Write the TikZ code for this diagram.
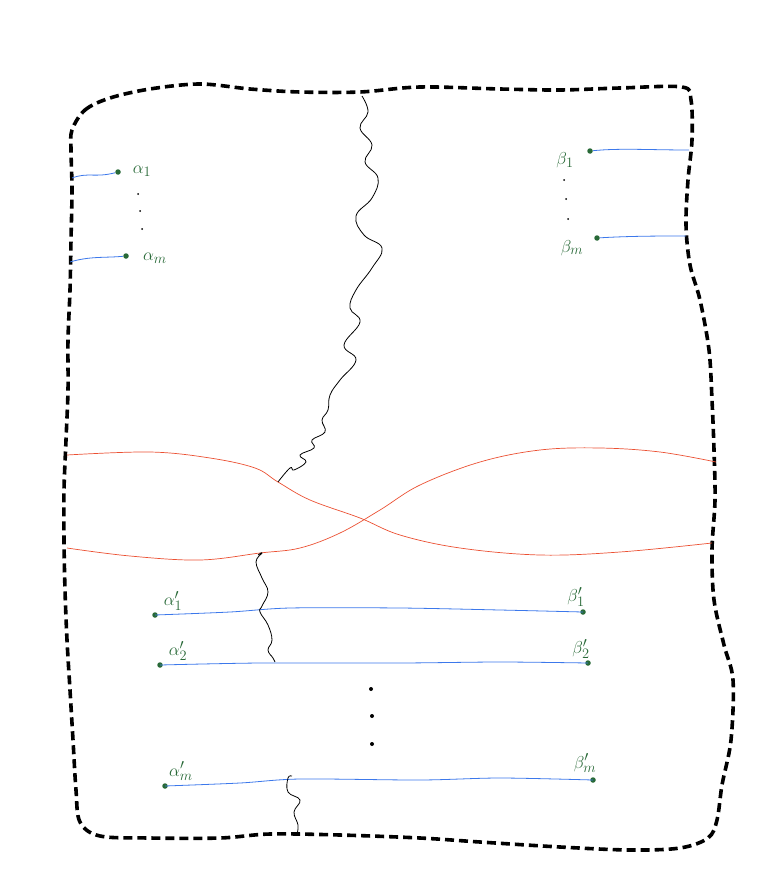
\documentclass[tikz,border=0pt]{standalone}
\definecolor{pgreen}{RGB}{40,105,55}
\definecolor{pblue}{RGB}{60,120,235}
\definecolor{pred}{RGB}{235,80,50}
\begin{document}
\begin{tikzpicture}[x=1pt,y=-1pt,
  bound/.style={line width=3.6pt,dash pattern=on 9pt off 5pt},
  arcb/.style={pblue,line width=0.8pt},
  curv/.style={pred,line width=0.7pt},
  wig/.style={black,line width=0.8pt},
  pt/.style={circle,fill=pgreen,inner sep=0pt,minimum size=5.5pt},
  lbl/.style={pgreen,font=\fontsize{19}{22}\selectfont},
  dt/.style={circle,fill=black,inner sep=0pt,minimum size=2pt}]
\useasboundingbox (0,0) rectangle (763,880);
% boundary
\draw[bound] plot[smooth cycle,tension=0.55] coordinates {
 (72,130) (85,110) (110,98) (150,89) (200,84) (250,89) (300,92) (360,92) (420,87)
 (500,89) (560,90) (620,88) (682,87) (691,100) (692,140) (688,180) (686,225)
 (690,265) (700,300) (709,350) (712,400) (714,450) (715,500) (712,550) (714,600)
 (724,645) (733,680) (731,740) (722,785) (717,820) (708,838) (680,848) (630,850)
 (560,847) (480,842) (420,838) (340,835) (270,834) (220,838) (150,838) (100,836)
 (80,822) (76,790) (73,740) (70,690) (67,640) (65,590) (64,540) (64,490) (66,440)
 (68,390) (68,340) (70,290) (71,240) (72,190) (71,150)};
% nodes
\node[pt] (a1) at (118,172) {};
\node[pt] (am) at (126,256) {};
\node[pt] (b1) at (590,151) {};
\node[pt] (bm) at (597,238) {};
\node[pt] (ap1) at (155,615) {};
\node[pt] (bp1) at (583,612) {};
\node[pt] (ap2) at (160,665) {};
\node[pt] (bp2) at (588,663) {};
\node[pt] (apm) at (165,786) {};
\node[pt] (bpm) at (593,780) {};
\coordinate (ea1) at (72,178);
\coordinate (eam) at (70,262);
\coordinate (eb1) at (689,150);
\coordinate (ebm) at (686,236);
% blue arcs
\draw[arcb] (ea1) .. controls (88,172) and (95,178) .. (a1);
\draw[arcb] (eam) .. controls (90,256) and (105,258) .. (am);
\draw[arcb] (b1) .. controls (620,148) and (650,150) .. (eb1);
\draw[arcb] (bm) .. controls (630,236) and (660,236) .. (ebm);
\draw[arcb] plot[smooth,tension=0.5] coordinates {(ap1) (230,612) (290,608) (400,608) (500,610) (bp1)};
\draw[arcb] plot[smooth,tension=0.5] coordinates {(ap2) (260,663) (400,663) (500,662) (bp2)};
\draw[arcb] plot[smooth,tension=0.5] coordinates {(apm) (240,783) (300,779) (420,780) (500,778) (bpm)};
% labels
\node[lbl] at (142,171) {$\alpha_1$};
\node[lbl] at (155,258) {$\alpha_m$};
\node[lbl] at (565,160) {$\beta_1$};
\node[lbl] at (572,248) {$\beta_m$};
\node[lbl] at (173,601) {$\alpha'_1$};
\node[lbl] at (178,651) {$\alpha'_2$};
\node[lbl] at (181,771) {$\alpha'_m$};
\node[lbl] at (576,597) {$\beta'_1$};
\node[lbl] at (581,649) {$\beta'_2$};
\node[lbl] at (585,763) {$\beta'_m$};
% dots
\node[dt] at (138,194) {};
\node[dt] at (140,211) {};
\node[dt] at (142,229) {};
\node[dt] at (564,180) {};
\node[dt] at (566,199) {};
\node[dt] at (568,219) {};
\node[dt,minimum size=4pt] at (371,689) {};
\node[dt,minimum size=4pt] at (372,716) {};
\node[dt,minimum size=4pt] at (372,744) {};
% red curves
\draw[curv] plot[smooth,tension=0.6] coordinates {(67,455) (150,452) (210,458) (255,468) (278,482) (310,500) (360,518) (400,535) (460,548) (540,555) (620,552) (712,543)};
\draw[curv] plot[smooth,tension=0.6] coordinates {(67,548) (130,556) (200,560) (260,553) (300,548) (340,533) (380,510) (420,485) (480,462) (540,450) (600,448) (660,452) (716,462)};
% wiggly lines
\coordinate (wt) at (362,96);
\coordinate (wb) at (278,482);
\draw[wig] plot[smooth,tension=0.7] coordinates {(wt) (368,112) (360,128) (372,145) (365,162) (378,178) (372,198) (356,216) (364,235) (382,248) (372,268) (356,290) (350,308) (360,322) (344,345) (356,360) (340,380) (330,395) (328,410) (322,420) (325,432) (312,440) (314,448) (300,455) (306,462) (294,470) (290,468) (wb)};
\draw[wig] plot[smooth,tension=0.7] coordinates {(258,555) (262,553) (256,562) (262,578) (268,592) (262,606) (260,612) (268,625) (272,640) (268,650) (273,658) (275,662)};
\draw[wig] plot[smooth,tension=0.7] coordinates {(292,776) (288,778) (288,792) (300,800) (294,812) (298,825) (297,834)};
\end{tikzpicture}
\end{document}
